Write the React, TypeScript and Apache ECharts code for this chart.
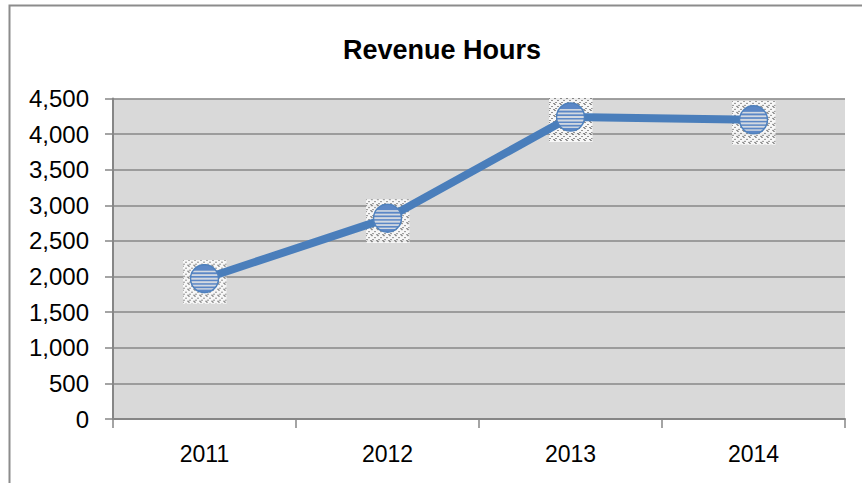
import React, { useEffect, useRef } from "react";
import * as echarts from "echarts";

const years = ["2011", "2012", "2013", "2014"];
const revenueHours = [1970, 2820, 4240, 4200];
const yTicks = [0, 500, 1000, 1500, 2000, 2500, 3000, 3500, 4000, 4500];

const squareSvg =
  '<svg xmlns="http://www.w3.org/2000/svg" width="44" height="44" viewBox="0 0 44 44" shape-rendering="crispEdges">' +
  '<defs><pattern id="d" width="6" height="6" patternUnits="userSpaceOnUse">' +
  '<rect x="0" y="0" width="1" height="1" fill="#000"/>' +
  '<rect x="3" y="2" width="1" height="1" fill="#000"/>' +
  '<rect x="1" y="4" width="1" height="1" fill="#000"/>' +
  '<rect x="5" y="5" width="1" height="1" fill="#000"/>' +
  "</pattern></defs>" +
  '<rect x="0" y="0" width="44" height="44" fill="#ffffff"/>' +
  '<rect x="0" y="0" width="44" height="44" fill="url(#d)"/>' +
  "</svg>";

const circleSvg =
  '<svg xmlns="http://www.w3.org/2000/svg" width="30" height="30" viewBox="0 0 30 30">' +
  '<defs><clipPath id="c"><circle cx="15" cy="15" r="14"/></clipPath></defs>' +
  '<circle cx="15" cy="15" r="14" fill="#5b87c6"/>' +
  '<g clip-path="url(#c)" fill="#d3d9e1">' +
  '<rect x="0" y="7" width="30" height="1.6"/>' +
  '<rect x="0" y="10.5" width="30" height="1.8"/>' +
  '<rect x="0" y="14" width="30" height="2"/>' +
  '<rect x="0" y="17.5" width="30" height="2"/>' +
  '<rect x="0" y="21" width="30" height="1.8"/>' +
  '<rect x="0" y="24.5" width="30" height="1.4"/>' +
  "</g>" +
  '<circle cx="15" cy="15" r="14" fill="none" stroke="#4f81bd" stroke-width="1.5"/>' +
  "</svg>";

const toImg = (s: string) =>
  "image://data:image/svg+xml;charset=utf-8," + encodeURIComponent(s);

export default function App() {
  const ref = useRef<HTMLDivElement>(null);
  useEffect(() => {
    if (!ref.current) return;
    const chart = echarts.init(ref.current, null, { renderer: "svg" });
    chart.setOption({
      animation: false,
      backgroundColor: "#ffffff",
      title: {
        text: "Revenue Hours",
        left: 338,
        top: 31,
        textStyle: {
          fontFamily: "Liberation Sans",
          fontWeight: "bold",
          fontSize: 27,
          color: "#000000",
        },
      },
      graphic: [
        {
          type: "rect",
          shape: { x: 9.5, y: 5.5, width: 900, height: 600 },
          style: { fill: "none", stroke: "#8c8c8c", lineWidth: 2 },
          z: -1,
        },
      ],
      grid: {
        left: 113,
        right: 17,
        top: 98.5,
        bottom: 64,
        show: true,
        backgroundColor: "#d9d9d9",
        borderWidth: 0,
      },
      xAxis: {
        type: "category",
        data: years,
        boundaryGap: true,
        axisLine: { show: true, lineStyle: { color: "#868686", width: 2 } },
        axisTick: {
          show: true,
          inside: false,
          length: 9,
          alignWithLabel: false,
          lineStyle: { color: "#868686", width: 1.5 },
        },
        axisLabel: {
          margin: 23,
          fontFamily: "Liberation Sans",
          fontSize: 23,
          color: "#000000",
        },
      },
      yAxis: {
        type: "value",
        min: yTicks[0],
        max: yTicks[yTicks.length - 1],
        interval: 500,
        axisLine: { show: true, lineStyle: { color: "#868686", width: 2 } },
        axisTick: {
          show: true,
          inside: false,
          length: 8,
          lineStyle: { color: "#868686", width: 1.5 },
        },
        splitLine: { show: true, lineStyle: { color: "#878787", width: 1.5 } },
        axisLabel: {
          margin: 24,
          fontFamily: "Liberation Sans",
          fontSize: 24,
          color: "#000000",
          formatter: (v: number) => v.toLocaleString("en-US"),
        },
      },
      series: [
        {
          type: "scatter",
          data: revenueHours,
          symbol: toImg(squareSvg),
          symbolSize: [44, 44],
          symbolOffset: [0, 3],
          z: 1,
          silent: true,
        },
        {
          type: "line",
          data: revenueHours,
          symbol: toImg(circleSvg),
          symbolSize: [30, 30],
          showSymbol: true,
          lineStyle: { color: "#4a7ebb", width: 8 },
          itemStyle: { color: "#4a7ebb" },
          z: 3,
        },
      ],
    });
    return () => chart.dispose();
  }, []);
  return (
    <div
      ref={ref}
      style={{ position: "fixed", left: 0, top: 0, width: 862, height: 483 }}
    />
  );
}
